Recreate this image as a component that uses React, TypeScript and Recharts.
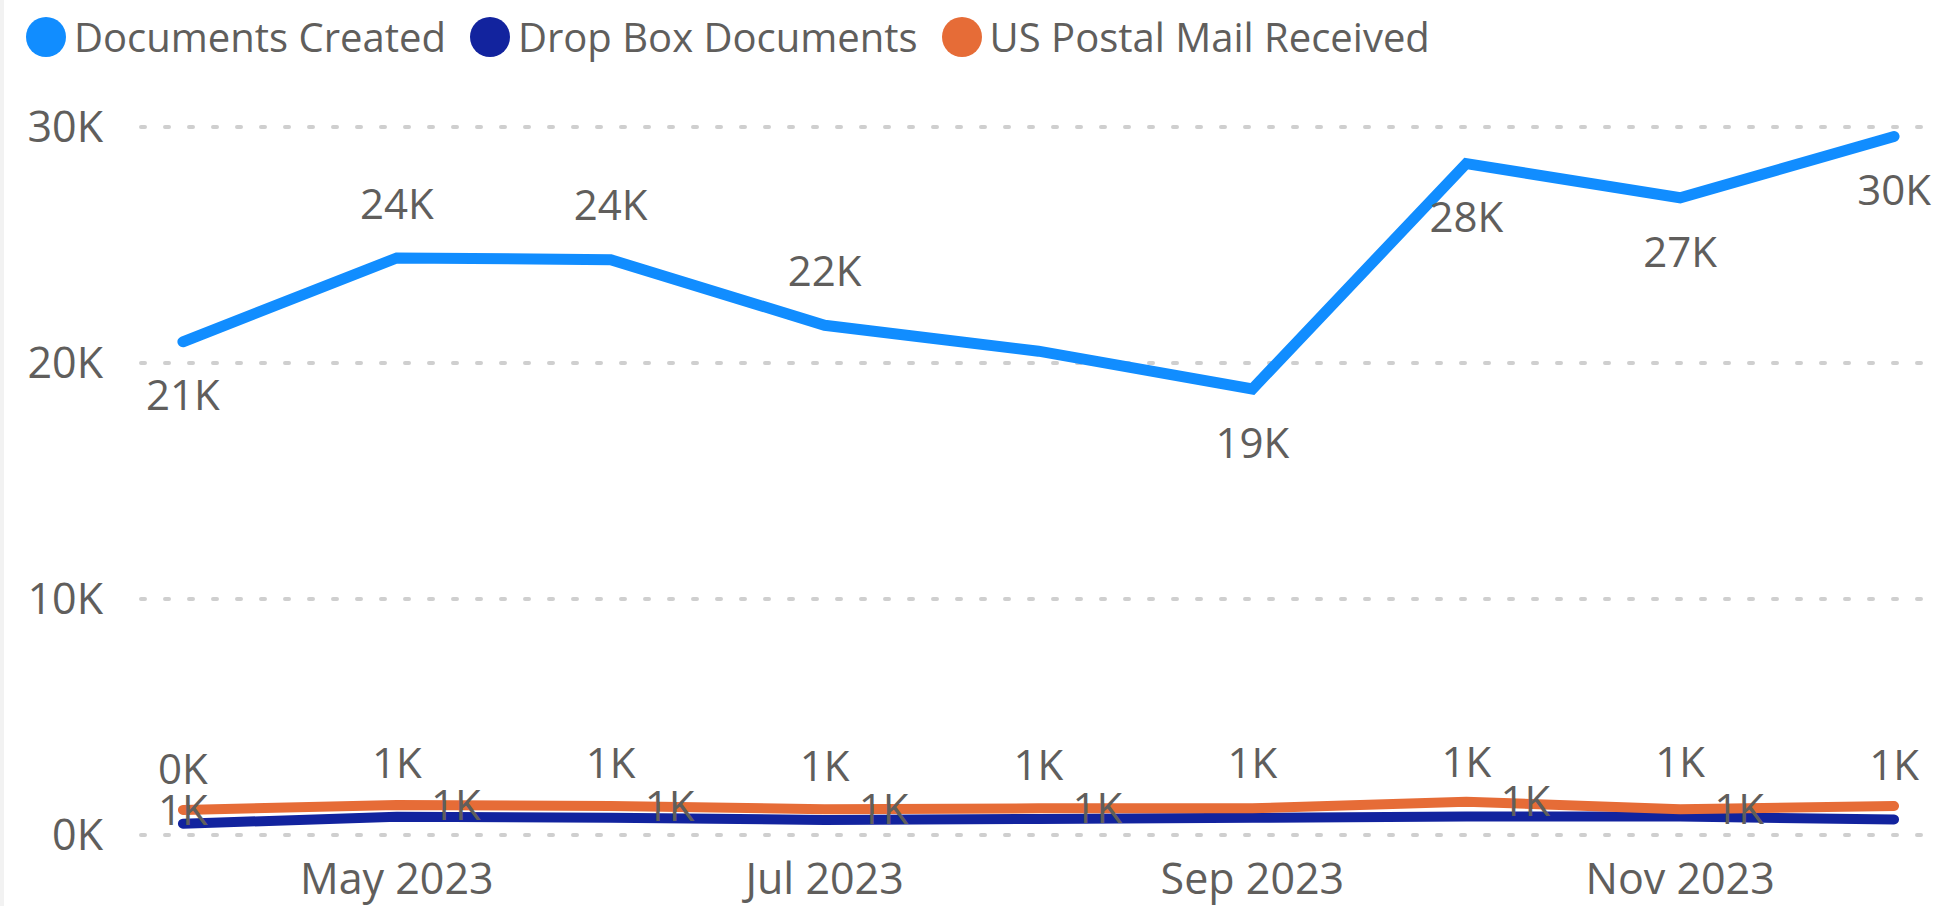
import { LineChart, Line, XAxis, YAxis, CartesianGrid, Legend } from "recharts";

const months = ["Apr 2023", "May 2023", "Jun 2023", "Jul 2023", "Aug 2023", "Sep 2023", "Oct 2023", "Nov 2023", "Dec 2023"];
const documentsCreated = [20900, 24450, 24380, 21600, 20500, 18900, 28450, 27000, 29600];
const dropBoxDocuments = [480, 770, 730, 640, 680, 730, 780, 780, 660];
const usPostalMail = [1060, 1270, 1230, 1090, 1130, 1130, 1410, 1090, 1230];

const xTickIndex = [1, 3, 5, 7];
const yTicks = [0, 10000, 20000, 30000];

// where Power BI put each data label (null = hidden)
const createdLabelPos = ["below", "above", "above", "above", null, "below", "below", "below", "below"];
const dropBoxLabelPos = ["above", "above", "above", "above", "above", "above", "above", "above", "above"];
const postalLabelPos = ["center", "right", "right", "right", "right", null, "right", "right", null];

const series = [
  { key: "created", name: "Documents Created", color: "#118DFF" },
  { key: "dropBox", name: "Drop Box Documents", color: "#12239E" },
  { key: "postal", name: "US Postal Mail Received", color: "#E66C37" },
];

const data = months.map((month, i) => ({
  i,
  month,
  created: documentsCreated[i],
  dropBox: dropBoxDocuments[i],
  postal: usPostalMail[i],
}));

const FONT = "'Segoe UI', 'Open Sans', sans-serif";
const TEXT = "#605E5C";

const fmtK = (v: number) => `${Math.round(v / 1000)}K`;

function makeLabel(positions: (string | null)[]) {
  return (props: any) => {
    const { index, value } = props;
    const x = props.x ?? props.viewBox?.x;
    const y = props.y ?? props.viewBox?.y;
    const pos = positions[index];
    if (!pos || x == null || y == null) return null;
    let dx = 0;
    let dy = 0;
    if (pos === "above") dy = -54;
    if (pos === "below") dy = 54;
    if (pos === "right") dx = 59;
    return (
      <text
        key={`lbl-${index}`}
        x={x + dx}
        y={y + dy}
        dy="0.35em"
        textAnchor="middle"
        fill={TEXT}
        fontSize={42}
        fontFamily={FONT}
      >
        {fmtK(value)}
      </text>
    );
  };
}

function LegendContent() {
  return (
    <div style={{ display: "flex", alignItems: "center", height: 74, paddingLeft: 26, fontFamily: FONT }}>
      {series.map((s) => (
        <div key={s.key} style={{ display: "flex", alignItems: "center", marginRight: 24 }}>
          <span style={{ width: 40, height: 40, borderRadius: "50%", background: s.color, display: "inline-block" }} />
          <span style={{ marginLeft: 8, fontSize: 40, color: TEXT, lineHeight: "40px" }}>{s.name}</span>
        </div>
      ))}
    </div>
  );
}

export default function App() {
  return (
    <div style={{ position: "relative", width: 1952, height: 906, background: "#fff" }}>
      <style>{`body { margin: 0; }`}</style>
      <div style={{ position: "absolute", left: 0, top: 0, width: 4, height: 906, background: "#F2F2F2" }} />
      <LineChart width={1952} height={906} data={data} margin={{ top: 53, right: 28, bottom: 41, left: 21 }}>
        <Legend verticalAlign="top" align="left" content={<LegendContent />} wrapperStyle={{ top: 0, left: 0 }} />
        <CartesianGrid
          vertical={false}
          stroke="#CFCFCF"
          strokeWidth={4}
          strokeDasharray="4 20"
          strokeLinecap="round"
        />
        <XAxis
          type="number"
          dataKey="i"
          height={30}
          domain={[-0.196, 8.14]}
          ticks={xTickIndex}
          tickFormatter={(i: number) => months[i]}
          axisLine={false}
          tickLine={false}
          tickSize={0}
          tickMargin={28}
          tick={{ fill: TEXT, fontSize: 43, fontFamily: FONT }}
        />
        <YAxis
          width={120}
          domain={[0, 30000]}
          ticks={yTicks}
          tickFormatter={fmtK}
          axisLine={false}
          tickLine={false}
          tickSize={0}
          tickMargin={38}
          tick={{ fill: TEXT, fontSize: 43, fontFamily: FONT }}
        />
        <Line
          dataKey="created"
          name="Documents Created"
          stroke="#118DFF"
          strokeWidth={11}
          strokeLinecap="round"
          dot={false}
          activeDot={false}
          isAnimationActive={false}
          label={makeLabel(createdLabelPos)}
        />
        <Line
          dataKey="dropBox"
          name="Drop Box Documents"
          stroke="#12239E"
          strokeWidth={10}
          strokeLinecap="round"
          dot={false}
          activeDot={false}
          isAnimationActive={false}
          label={makeLabel(dropBoxLabelPos)}
        />
        <Line
          dataKey="postal"
          name="US Postal Mail Received"
          stroke="#E66C37"
          strokeWidth={10}
          strokeLinecap="round"
          dot={false}
          activeDot={false}
          isAnimationActive={false}
          label={makeLabel(postalLabelPos)}
        />
      </LineChart>
    </div>
  );
}
